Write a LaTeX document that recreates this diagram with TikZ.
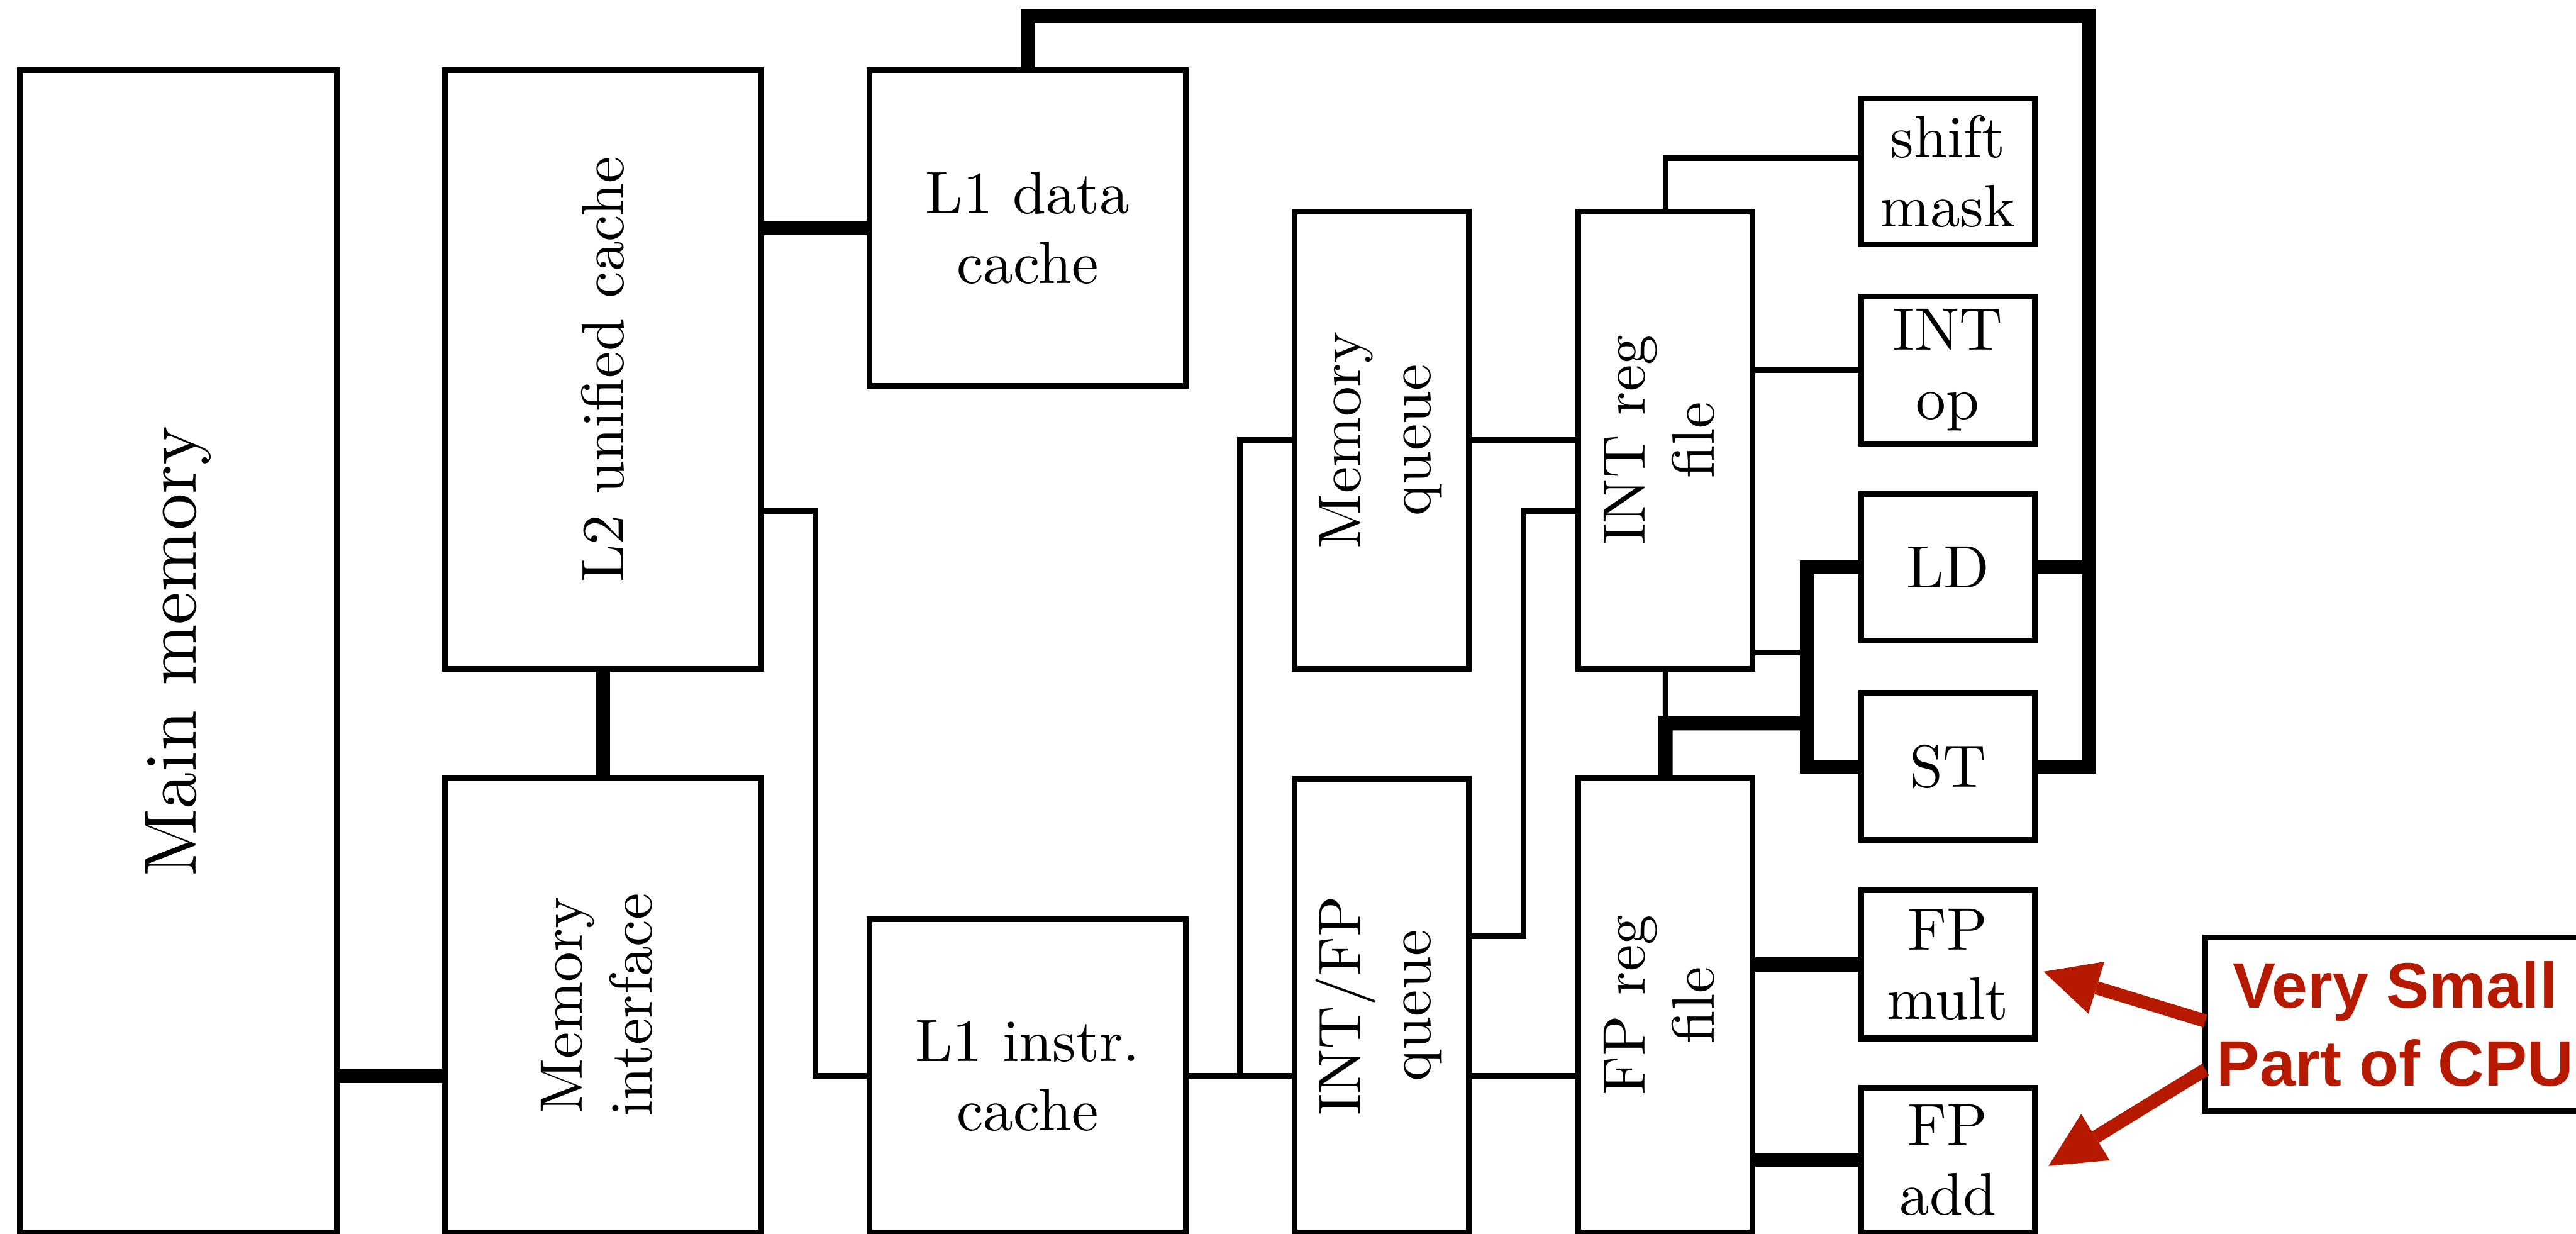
\documentclass[tikz,border=0pt]{standalone}
\usepackage{fontspec}
\usepackage{graphicx}
\usepackage{xcolor}
\usepackage{tikz}
\usetikzlibrary{arrows.meta, positioning, calc}

\setmainfont{lmroman10-regular.otf}[BoldFont=lmroman10-bold.otf]
\newfontfamily\calloutfont{Liberation Sans}
\definecolor{cpured}{RGB}{181,26,0}
\newcommand{\vlabel}[1]{\rotatebox{90}{\begin{tabular}{@{}c@{}}#1\end{tabular}}}

\begin{document}
\begin{tikzpicture}[
  block/.style={draw, rectangle, line width=2.7pt, inner sep=0pt, outer sep=0pt, anchor=north west, align=center, font=\fontsize{28.5}{33}\selectfont},
  wide/.style={block, minimum width=5.28cm},
  narrow/.style={block, minimum width=2.91cm},
  unit/.style={block, minimum width=2.90cm},
  wire/.style={line width=2.7pt},
  bus/.style={line width=6.7pt},
  pointer/.style={-{Triangle[length=9.2mm, width=9.1mm, line width=0pt]}, line width=6.3pt, draw=cpured},
  note/.style={draw, rectangle, line width=2.7pt, inner sep=0pt, outer sep=0pt, anchor=north west, align=center, text=cpured, font=\calloutfont\bfseries\fontsize{30.5}{37}\selectfont}
]
\useasboundingbox (0,0) rectangle (43.02,-20.60);

% memory side
\node[wide, minimum width=5.29cm, minimum height=19.41cm, font=\fontsize{35}{40}\selectfont] (mainmem) at (0.33,-1.17) {\rotatebox{90}{Main memory}};
\node[wide, minimum height=10cm, right=1.81cm of mainmem.north east, anchor=north west] (l2) {\rotatebox{90}{L2 unified cache}};
\node[wide, minimum height=7.59cm, below=1.82cm of l2] (memif) {\vlabel{Memory\\interface}};
\node[wide, minimum height=5.27cm, right=1.81cm of l2.north east, anchor=north west] (l1d) {L1 data\\cache};
\node[wide, minimum height=5.23cm, right=1.81cm of memif.south east, anchor=south west] (l1i) {L1 instr.\\cache};

% queues and register files
\node[narrow, minimum height=7.64cm] (memq) at (21.62,-3.53) {\vlabel{Memory\\queue}};
\node[narrow, minimum height=7.57cm, below=1.84cm of memq] (intfpq) {\vlabel{INT/FP\\queue}};
\node[narrow, minimum height=7.64cm, right=1.83cm of memq.north east, anchor=north west] (intreg) {\vlabel{INT reg\\file}};
\node[narrow, minimum height=7.59cm, below=1.82cm of intreg] (fpreg) {\vlabel{FP reg\\file}};

% functional units
\node[unit, minimum height=2.44cm] (shift) at (31.08,-1.64) {shift\\mask};
\node[unit, minimum height=2.46cm, below=0.87cm of shift] (intop) {INT\\op};
\node[unit, minimum height=2.45cm, below=0.84cm of intop] (ld) {LD};
\node[unit, minimum height=2.46cm, below=0.87cm of ld] (st) {ST};
\node[unit, minimum height=2.47cm, below=0.84cm of st] (fpmult) {FP\\mult};
\node[unit, minimum height=2.42cm, below=0.82cm of fpmult] (fpadd) {FP\\add};

\node[note, minimum width=6.34cm, minimum height=2.90cm] (note) at (36.83,-15.65) {Very Small\\Part of CPU};

\coordinate (ringNE) at (34.89,-0.26);
\coordinate (l2out) at (13.62,-8.53);
\coordinate (split) at ($(l1i.east)!0.5!(l1i.east -| intfpq.west)$);
\coordinate (qmid) at ($(intfpq.east)!0.5!(intfpq.east -| fpreg.west)$);
\coordinate (lsbus) at ($(intreg.east)!0.5!(intreg.east -| ld.west)$);
\coordinate (rfjoin) at ($(intreg.south)!0.5!(fpreg.north)$);
\coordinate (multtip) at ([xshift=0.15cm, yshift=-0.12cm]fpmult.east);
\coordinate (addtip) at ([xshift=0.23cm, yshift=-0.10cm]fpadd.east);
\coordinate (intin) at ([yshift=-5.00cm]intreg.north west);

% wide buses
\draw[bus] (mainmem.east |- l1i.west) -- (memif.west |- l1i.west);
\draw[bus] (l2.south) -- (memif.north);
\draw[bus] (l2.east |- l1d.west) -- (l1d.west);
\draw[bus] (l1d.north) |- (ringNE) -- (ringNE |- st.east) -- (st.east);
\draw[bus] (ld.east) -- (ld.east -| ringNE);
\draw[bus] (ld.west) -- (ld.west -| lsbus) -- (st.west -| lsbus) -- (st.west);
\draw[bus] (fpreg.north) -- (rfjoin) -- (rfjoin -| lsbus);
\draw[bus] (fpmult.west -| fpreg.east) -- (fpmult.west);
\draw[bus] (fpadd.west -| fpreg.east) -- (fpadd.west);

% narrow paths
\draw[wire] (l2.east |- l2out) -- (l2out) |- (l1i.west);
\draw[wire] (l1i.east) -- (l1i.east -| intfpq.west);
\draw[wire] (split) |- (memq.west);
\draw[wire] (memq.east) -- (intreg.west);
\draw[wire] ([yshift=-2.62cm]intfpq.north east) -| (qmid |- intin) -- (intin);
\draw[wire] (intfpq.east |- l1i.east) -- (fpreg.west |- l1i.east);
\draw[wire] (intreg.north) |- ([yshift=0.22cm]shift.west);
\draw[wire] (intreg.east |- intop.west) -- (intop.west);
\draw[wire] ([yshift=0.27cm]intreg.south east) -- ([yshift=0.27cm]intreg.south east -| lsbus);
\draw[wire] (intreg.south) -- (rfjoin);

% callout
\draw[pointer] ([yshift=0.05cm]note.west) -- (multtip);
\draw[pointer] ([yshift=-0.76cm]note.west) -- (addtip);
\end{tikzpicture}
\end{document}
